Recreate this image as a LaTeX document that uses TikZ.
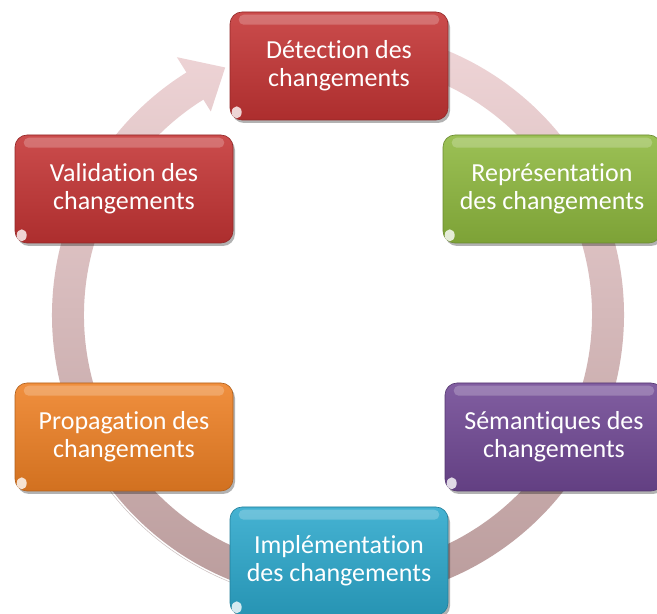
\documentclass[tikz,border=0pt]{standalone}
\usepackage{fontspec}
\setmainfont[Ligatures=NoCommon]{Carlito}
\usetikzlibrary{calc,shadows}
\definecolor{cred}{RGB}{196,52,52}
\definecolor{cgreen}{RGB}{142,184,62}
\definecolor{cpurple}{RGB}{112,72,148}
\definecolor{ccyan}{RGB}{44,168,204}
\definecolor{corange}{RGB}{238,128,36}
\definecolor{ringtop}{RGB}{240,214,216}
\definecolor{ringbot}{RGB}{186,156,156}
\tikzset{
  gnode/.style={rectangle, rounded corners=12pt, minimum width=218pt, minimum height=108pt,
    text=white, align=center, font=\fontsize{26}{28}\selectfont, line width=0.6pt,
    drop shadow={shadow xshift=2pt, shadow yshift=-3pt, opacity=.3, fill=black}},
  hilite/.style={white, opacity=.22, rounded corners=5pt},
  glint/.style={white, opacity=.8}
}
\newcommand\gbox[5]{%
  \node[gnode, draw=#4!75!black, top color=#4!88!white, bottom color=#4!88!black] (#1) at (#2,#3) {#5};
  \fill[hilite] ([shift={(9pt,-3pt)}]#1.north west) rectangle ([shift={(-9pt,-13pt)}]#1.north east);
  \fill[glint] ([shift={(7pt,8pt)}]#1.south west) circle[x radius=5pt, y radius=6pt];
}
\begin{document}
\begin{tikzpicture}[x=1pt,y=1pt]
\useasboundingbox (0,0) rectangle (657,614);
\fill[white] (0,0) rectangle (657,614);
\coordinate (C) at (338,299);
% ring arrow
\begin{scope}
\clip ($(C)+(85:286)$) arc[start angle=85, end angle=-238, radius=286]
  -- ($(C)+(122:304)$) -- ($(C)+(114.5:272)$) -- ($(C)+(122:240)$) -- ($(C)+(122:254)$)
  arc[start angle=-238, end angle=85, radius=254] -- cycle;
\shade[top color=ringtop, bottom color=ringbot] (0,13) rectangle (657,590);
\end{scope}
\draw[ringbot!80!black, opacity=.5, line width=0.5pt] ($(C)+(-110:288)$) arc[start angle=-110, end angle=-150, radius=288];
% boxes
\gbox{det}{339}{548}{cred}{Détection des\\changements}
\gbox{rep}{552}{425}{cgreen}{Représentation\\des changements}
\gbox{sem}{554}{177}{cpurple}{Sémantiques des\\changements}
\gbox{imp}{339}{53}{ccyan}{Implémentation\\des changements}
\gbox{pro}{124}{177}{corange}{Propagation des\\changements}
\gbox{val}{124}{425}{cred}{Validation des\\changements}
\end{tikzpicture}
\end{document}
